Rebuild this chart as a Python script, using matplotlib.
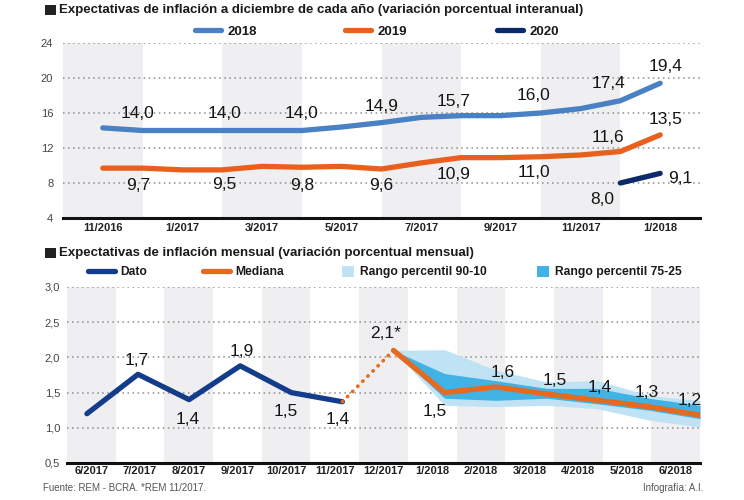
import numpy as np
import matplotlib
matplotlib.use('Agg')
import matplotlib.pyplot as plt
from matplotlib import font_manager as fm
from matplotlib.lines import Line2D
from matplotlib.patches import Patch, Rectangle

# ---------------- data ----------------
top_months = ['11/2016', '12/2016', '1/2017', '2/2017', '3/2017', '4/2017', '5/2017',
              '6/2017', '7/2017', '8/2017', '9/2017', '10/2017', '11/2017', '12/2017', '1/2018']
top_xticklabels = ['11/2016', '1/2017', '3/2017', '5/2017', '7/2017', '9/2017', '11/2017', '1/2018']
exp_2018 = [14.3, 14.0, 14.0, 14.0, 14.0, 14.0, 14.4, 14.9, 15.5, 15.7, 15.7, 16.0, 16.5, 17.4, 19.4]
exp_2019 = [9.7, 9.7, 9.5, 9.5, 9.9, 9.8, 9.9, 9.6, 10.3, 10.9, 10.9, 11.0, 11.2, 11.6, 13.5]
exp_2020 = [np.nan] * 13 + [8.0, 9.1]
top_label_idx = [1, 3, 5, 7, 9, 11, 13, 14]
top_2020_label_idx = [13, 14]
top_yticks = [4, 8, 12, 16, 20, 24]
top_series_names = ['2018', '2019', '2020']

bottom_months = ['6/2017', '7/2017', '8/2017', '9/2017', '10/2017', '11/2017', '12/2017',
                 '1/2018', '2/2018', '3/2018', '4/2018', '5/2018', '6/2018']
dato = [1.2, 1.76, 1.4, 1.88, 1.5, 1.37] + [np.nan] * 7
dato_labels = ['', '1,7', '1,4', '1,9', '1,5', '1,4']
mediana = [np.nan] * 6 + [2.1, 1.5, 1.58, 1.48, 1.39, 1.30, 1.18]
p90 = [np.nan] * 6 + [2.1, 2.11, 1.82, 1.65, 1.67, 1.46, 1.39]
p10 = [np.nan] * 6 + [2.1, 1.32, 1.30, 1.32, 1.27, 1.11, 1.01]
p75 = [np.nan] * 6 + [2.1, 1.77, 1.67, 1.56, 1.56, 1.42, 1.32]
p25 = [np.nan] * 6 + [2.1, 1.42, 1.39, 1.42, 1.34, 1.25, 1.13]
bottom_yticks = [0.5, 1.0, 1.5, 2.0, 2.5, 3.0]
bottom_series_names = ['Dato', 'Mediana', 'Rango percentil 90-10', 'Rango percentil 75-25']

title_top = 'Expectativas de inflación a diciembre de cada año (variación porcentual interanual)'
title_bottom = 'Expectativas de inflación mensual (variación porcentual mensual)'
footer_left = 'Fuente: REM - BCRA. *REM 11/2017.'
footer_right = 'Infografía: A.I.'

# ---------------- style ----------------
C18 = '#4a80c4'
C19 = '#e8601c'
C20 = '#0c2a6a'
CDATO = '#133d8a'
CMED = '#e5691f'
CP90 = '#bfe3f5'
CP75 = '#41b2e4'
BAND = '#efeff1'
GRID = '#8c8c8c'

names = {f.name for f in fm.fontManager.ttflist}
SANS = 'Liberation Sans'
NARROW = 'Liberation Sans Narrow' if 'Liberation Sans Narrow' in names else None


def narrow(size):
    if NARROW:
        return dict(family=NARROW, size=size)
    return dict(family=SANS, size=size * 0.82)


W, H = 744, 500
fig = plt.figure(figsize=(W / 100, H / 100), dpi=100)


def fx(px):
    return px / W


def fy(py):
    return 1 - py / H


def fmt(v):
    return f'{v:.1f}'.replace('.', ',')


def lab(ax, x, y, s, dx, dy):
    ax.annotate(s, (x, y), xytext=(dx, dy), textcoords='offset pixels', ha='center',
                va='center', fontsize=12.5, family=SANS, color='#151515', zorder=6)


def style_axes(ax, ypad, xpad):
    for s in ['left', 'top', 'right']:
        ax.spines[s].set_visible(False)
    ax.spines['bottom'].set_linewidth(2.2)
    ax.spines['bottom'].set_color('#111111')
    ax.tick_params(axis='y', length=0, pad=ypad, labelsize=8, labelcolor='#444444')
    ax.tick_params(axis='x', length=0, pad=xpad, labelsize=8, labelcolor='#222222')
    for t in ax.get_yticklabels():
        t.set_family(SANS)
    for t in ax.get_xticklabels():
        t.set_family(SANS)
        t.set_fontweight('bold')
    ax.yaxis.grid(True, linestyle=(0, (1, 2.3)), color=GRID, lw=1.1)
    ax.xaxis.grid(False)
    ax.set_axisbelow(True)


# ---------------- top chart ----------------
ax1 = fig.add_axes([fx(63), fy(218), (700 - 63) / W, (218 - 43) / H])
x1 = np.arange(len(top_months))
ax1.set_xlim(-1, 15)
ax1.set_ylim(4, 24)
xt1 = [top_months.index(l) for l in top_xticklabels]
for j, p in enumerate(xt1):
    if j % 2 == 0:
        ax1.axvspan(p - 1, p + 1, color=BAND, lw=0, zorder=0)
ax1.set_xticks(xt1)
ax1.set_xticklabels(top_xticklabels)
ax1.set_yticks(top_yticks)
ax1.set_yticklabels([str(v) for v in top_yticks])
style_axes(ax1, 7, 3.6)

ax1.plot(x1, exp_2018, color=C18, lw=3.8, solid_capstyle='round', solid_joinstyle='round', zorder=3)
ax1.plot(x1, exp_2019, color=C19, lw=3.8, solid_capstyle='round', solid_joinstyle='round', zorder=3)
ax1.plot(x1, exp_2020, color=C20, lw=3.8, solid_capstyle='round', solid_joinstyle='round', zorder=3)

off_2018 = [(-5, 17), (2, 17), (0, 17), (0, 16), (-8, 14), (-7, 17), (-12, 17), (5, 17)]
off_2019 = [(-4, -17), (2, -15), (0, -18), (0, -16), (-8, -17), (-7, -16), (-12, 14), (5, 15)]
off_2020 = [(-18, -17), (20, -5)]
for i, (dx, dy) in zip(top_label_idx, off_2018):
    lab(ax1, x1[i], exp_2018[i], fmt(exp_2018[i]), dx, dy)
for i, (dx, dy) in zip(top_label_idx, off_2019):
    lab(ax1, x1[i], exp_2019[i], fmt(exp_2019[i]), dx, dy)
for i, (dx, dy) in zip(top_2020_label_idx, off_2020):
    lab(ax1, x1[i], exp_2020[i], fmt(exp_2020[i]), dx, dy)

# ---------------- bottom chart ----------------
rect2 = [fx(67), fy(463), (700 - 67) / W, (463 - 287) / H]
ax2 = fig.add_axes(rect2)
ax2.set_xlim(-0.5, 12.5)
ax2.set_ylim(0.5, 3.0)
x2 = np.arange(len(bottom_months))
for i in x2:
    if i % 2 == 0:
        ax2.axvspan(i - 0.5, i + 0.5, color=BAND, lw=0, zorder=0)
ax2.set_xticks(x2)
ax2.set_xticklabels(bottom_months)
ax2.set_yticks(bottom_yticks)
ax2.set_yticklabels([fmt(v) for v in bottom_yticks])
style_axes(ax2, 5, 2.0)

# data layer (the infographic draws its points on a slightly wider spacing)
axd = ax2.twiny()
axd.set_xlim(-0.39, 12.0)
axd.axis('off')

m = ~np.isnan(np.array(p90))
axd.fill_between(x2[m], np.array(p10)[m], np.array(p90)[m], color=CP90, lw=0, zorder=1)
axd.fill_between(x2[m], np.array(p25)[m], np.array(p75)[m], color=CP75, lw=0, zorder=2)
axd.plot(x2, mediana, color=CMED, lw=3.8, solid_capstyle='round', solid_joinstyle='round', zorder=4)
axd.plot(x2, dato, color=CDATO, lw=3.8, solid_capstyle='round', solid_joinstyle='round', zorder=4)
last = int(np.where(~np.isnan(np.array(dato)))[0][-1])
axd.plot([x2[last], x2[last + 1]], [dato[last], mediana[last + 1]], color=CMED, lw=2.6,
         linestyle=(0, (0.1, 1.9)), dash_capstyle='round', zorder=4)

off_dato = [None, (-1, 14), (-1, -20), (2, 14), (-6, -19), (-5, -18)]
for i, s in enumerate(dato_labels):
    if s:
        dx, dy = off_dato[i]
        lab(axd, x2[i], dato[i], s, dx, dy)
off_med = [(-8, 17), (-10, -19), (7, 14), (8, 14), (2, 13), (-2, 14), (-10, 15)]
for k, i in enumerate(range(6, 13)):
    s = fmt(mediana[i]) + ('*' if k == 0 else '')
    dx, dy = off_med[k]
    lab(axd, x2[i], mediana[i], s, dx, dy)

# ---------------- titles, legends, footer ----------------
for ysq in (5, 248):
    fig.add_artist(Rectangle((fx(45), fy(ysq + 10)), 11 / W, 10 / H, transform=fig.transFigure,
                             color='#222222', lw=0))
fig.text(fx(59), fy(10), title_top, ha='left', va='center', fontweight='bold',
         color='#1a1a1a', **narrow(11.6))
fig.text(fx(59), fy(253), title_bottom, ha='left', va='center', fontweight='bold',
         color='#1a1a1a', **narrow(11.6))


def leg(handle, label, xpx, ypx, fs, hl, hh=0.7):
    lg = fig.legend([handle], [label], loc='center left', bbox_to_anchor=(fx(xpx), fy(ypx)),
                    frameon=False, borderpad=0, borderaxespad=0, handlelength=hl,
                    handleheight=hh, handletextpad=0.45,
                    prop=dict(family=SANS, weight='bold', size=fs))
    for t in lg.get_texts():
        t.set_color('#1a1a1a')


top_cols = [C18, C19, C20]
for name, c, xp in zip(top_series_names, top_cols, [195, 345, 497]):
    leg(Line2D([0], [0], color=c, lw=3.8, solid_capstyle='round'), name, xp, 32, 9.5, 2.0)

leg(Line2D([0], [0], color=CDATO, lw=3.8, solid_capstyle='round'), bottom_series_names[0], 88, 272, 8.7, 2.2)
leg(Line2D([0], [0], color=CMED, lw=3.8, solid_capstyle='round'), bottom_series_names[1], 203, 272, 8.7, 2.2)
leg(Patch(color=CP90, lw=0), bottom_series_names[2], 342, 272, 8.7, 1.0, 1.0)
leg(Patch(color=CP75, lw=0), bottom_series_names[3], 537, 272, 8.7, 1.0, 1.0)

fig.text(fx(43), fy(488), footer_left, ha='left', va='center', color='#555555', **narrow(8.6))
fig.text(fx(703), fy(488), footer_right, ha='right', va='center', color='#555555', **narrow(8.6))

fig.savefig('out.png', dpi=100)
